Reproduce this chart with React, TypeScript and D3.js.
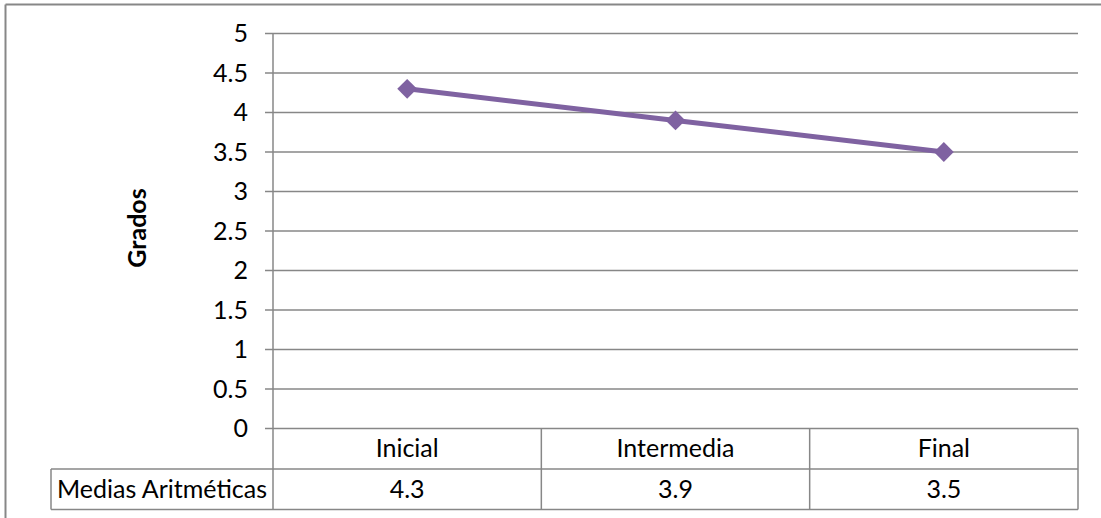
import React from "react";
import * as d3 from "d3";

const categories = ["Inicial", "Intermedia", "Final"];
const values = [4.3, 3.9, 3.5];
const yTicks = [0, 0.5, 1, 1.5, 2, 2.5, 3, 3.5, 4, 4.5, 5];
const seriesName = "Medias Aritméticas";
const yTitle = "Grados";

export default function App() {
  const W = 1101, H = 518;
  const left = 273, right = 1078, top = 33.5, bottom = 428.5;
  const rowH = 40.5;
  const grid = "#878787";
  const purple = "#7F62A1";
  const font = "Lato, 'Open Sans', sans-serif";
  const fs = 25;

  const x = d3.scaleBand<string>().domain(categories).range([left, right]).padding(0);
  const y = d3.scaleLinear().domain([0, 5]).range([bottom, top]);
  const line = d3.line<number>()
    .x((_, i) => (x(categories[i]) as number) + x.bandwidth() / 2)
    .y((d) => y(d));

  const diamond = d3.symbol().type(d3.symbolDiamond2).size(250)();

  return (
    <svg width={W} height={H} style={{ position: "absolute", left: 0, top: 0 }}>
      <rect x={0} y={0} width={W} height={H} fill="#fff" />
      <line x1={5.5} y1={4.5} x2={W} y2={4.5} stroke={grid} strokeWidth={2} />
      <line x1={5.5} y1={4.5} x2={5.5} y2={H} stroke={grid} strokeWidth={2} />
      {yTicks.map((t) => (
        <g key={t}>
          <line x1={265} x2={right} y1={y(t)} y2={y(t)} stroke={grid} strokeWidth={1.5} />
          <text x={248} y={y(t)} dy="0.34em" textAnchor="end" fontFamily={font} fontSize={fs} fill="#000">
            {t}
          </text>
        </g>
      ))}
      <line x1={left} x2={left} y1={top} y2={bottom + 2 * rowH} stroke={grid} strokeWidth={1.5} />
      {/* data table */}
      <line x1={51} x2={right} y1={bottom + rowH} y2={bottom + rowH} stroke={grid} strokeWidth={1.5} />
      <line x1={51} x2={right} y1={bottom + 2 * rowH} y2={bottom + 2 * rowH} stroke={grid} strokeWidth={1.5} />
      <line x1={51} x2={51} y1={bottom + rowH} y2={bottom + 2 * rowH} stroke={grid} strokeWidth={1.5} />
      {categories.map((c) => (
        <line key={c} x1={(x(c) as number) + x.bandwidth()} x2={(x(c) as number) + x.bandwidth()}
          y1={bottom} y2={bottom + 2 * rowH} stroke={grid} strokeWidth={1.5} />
      ))}
      {categories.map((c, i) => (
        <g key={c}>
          <text x={(x(c) as number) + x.bandwidth() / 2} y={bottom + rowH / 2} dy="0.34em"
            textAnchor="middle" fontFamily={font} fontSize={fs} fill="#000">{c}</text>
          <text x={(x(c) as number) + x.bandwidth() / 2} y={bottom + rowH * 1.5} dy="0.34em"
            textAnchor="middle" fontFamily={font} fontSize={fs} fill="#000">{values[i]}</text>
        </g>
      ))}
      <text x={162} y={bottom + rowH * 1.5} dy="0.34em" textAnchor="middle" fontFamily={font} fontSize={fs} fill="#000">
        {seriesName}
      </text>
      <text transform={`translate(146, ${(top + bottom) / 2 - 3}) rotate(-90)`} textAnchor="middle"
        fontFamily={font} fontSize={fs} fontWeight="bold" fill="#000">{yTitle}</text>
      <path d={line(values) || ""} fill="none" stroke={purple} strokeWidth={5} />
      {values.map((v, i) => (
        <path key={i} d={diamond || ""} fill={purple}
          transform={`translate(${(x(categories[i]) as number) + x.bandwidth() / 2}, ${y(v)})`} />
      ))}
    </svg>
  );
}
